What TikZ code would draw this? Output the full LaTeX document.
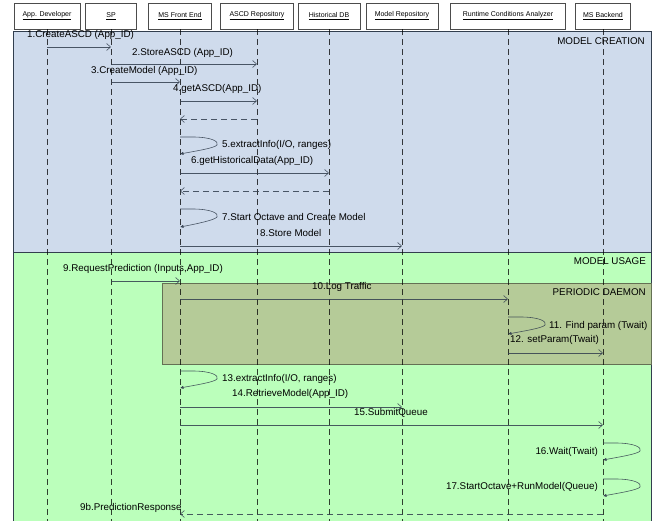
\documentclass[tikz,border=0pt]{standalone}
\usepackage{fontspec}
\setmainfont{Liberation Sans}
\usetikzlibrary{arrows.meta,positioning,calc}
\definecolor{creation}{RGB}{207,219,236}
\definecolor{usage}{RGB}{187,255,187}
\definecolor{daemon}{RGB}{181,203,152}
\definecolor{ink}{RGB}{50,62,78}

\begin{document}
\begin{tikzpicture}[x=1pt,y=-1pt,
  actor/.style={draw=black!70,fill=white,minimum height=26pt,inner sep=1pt,font=\fontsize{7}{8}\selectfont},
  life/.style={draw=black,opacity=.75,dash pattern=on 6pt off 4pt},
  msg/.style={draw=ink,opacity=.85,line width=.6pt,-{Straight Barb[length=4pt,width=7pt]}},
  ret/.style={msg,dash pattern=on 6pt off 4pt},
  selfmsg/.style={draw=ink,opacity=.85,line width=.6pt,-{Latex[length=3.5pt,width=3.5pt]},
    to path={-- ($(\tikztostart)+(12,0)$) .. controls ($(\tikztostart)+(33,0)$) and ($(\tikztostart)+(39,5)$)
      .. ($(\tikztostart)+(37,8)$) .. controls ($(\tikztostart)+(35,11)$) and ($(\tikztotarget)+(16,-3)$) .. (\tikztotarget)}},
  lbl/.style={font=\fontsize{9.8}{11}\selectfont,inner sep=0pt,anchor=west},
  zone/.style={font=\fontsize{9.8}{11}\selectfont,inner sep=0pt,anchor=east}]
 \useasboundingbox (0,0) rectangle (662,521);
 % frames
 \fill[creation] (13,31) rectangle (651,252);
 \fill[usage] (13,252) rectangle (651,521);
 \draw[ink] (13,521) -- (13,31) -- (651,31) -- (651,521);
 \draw[ink] (13,252) -- (651,252);
 \draw[draw=black!45!daemon,fill=daemon] (162,283) rectangle (651,364);
 \node[zone] (creat) at (645,41) {MODEL CREATION};
 \node[zone] (usag) at (646,261) {MODEL USAGE};
 \node[zone] (daem) at (646,292) {PERIODIC DAEMON};
 % participants
 \node[actor,minimum width=66pt] (dev) at (47,16) {\underline{App. Developer}};
 \node[actor,minimum width=51pt] (sp) at (111,16) {\underline{SP}};
 \node[actor,minimum width=63pt] (fe) at (180,16) {\underline{MS Front End}};
 \node[actor,minimum width=73pt] (ascd) at (257,16) {\underline{ASCD Repository}};
 \node[actor,minimum width=62pt] (hist) at (329,16) {\underline{Historical DB}};
 \node[actor,minimum width=72pt] (mrepo) at (402,16) {\underline{Model Repository}};
 \node[actor,minimum width=115pt] (rca) at (508,16) {\underline{Runtime Conditions Analyzer}};
 \node[actor,minimum width=55pt] (back) at (603,16) {\underline{MS Backend}};
 \foreach \p in {dev,sp,fe,ascd,hist,mrepo,rca,back}
   \draw[life] (\p.south) -- (\p.south |- 0,521);
 % model creation
 \node[lbl] (l1) at (27,35) {1.CreateASCD (App\_ID)};
 \draw[msg] (dev |- 0,47) -- (sp |- 0,47);
 \node[lbl] (l2) at (132,53) {2.StoreASCD (App\_ID)};
 \draw[msg] (sp |- 0,64) -- (ascd |- 0,64);
 \node[lbl] (l3) at (91,71) {3.CreateModel (App\_ID)};
 \draw[msg] (sp |- 0,82) -- (fe |- 0,82);
 \node[lbl] (l4) at (173,89) {4.getASCD(App\_ID)};
 \draw[msg] (fe |- 0,101) -- (ascd |- 0,101);
 \draw[ret] (ascd |- 0,119) -- (fe |- 0,119);
 \node[lbl] (l5) at (222,145) {5.extractInfo(I/O, ranges)};
 \draw[selfmsg] (fe |- 0,137) to (fe |- 0,154);
 \node[lbl] (l6) at (191,161) {6.getHistoricalData(App\_ID)};
 \draw[msg] (fe |- 0,173) -- (hist |- 0,173);
 \draw[ret] (hist |- 0,191) -- (fe |- 0,191);
 \node[lbl] (l7) at (222,217) {7.Start Octave and Create Model};
 \draw[selfmsg] (fe |- 0,209) to (fe |- 0,227);
 \node[lbl] (l8) at (260,233) {8.Store Model};
 \draw[msg] (fe |- 0,246) -- (mrepo |- 0,246);
 % model usage
 \node[lbl] (l9) at (63,269) {9.RequestPrediction (Inputs,App\_ID)};
 \draw[msg] (sp |- 0,281) -- (fe |- 0,281);
 \node[lbl] (l10) at (312,287) {10.Log Traffic};
 \draw[msg] (fe |- 0,299) -- (rca |- 0,299);
 \node[lbl] (l11) at (549,326) {11. Find param (Twait)};
 \draw[selfmsg] (rca |- 0,317) to (rca |- 0,334);
 \node[lbl] (l12) at (510,340) {12. setParam(Twait)};
 \draw[msg] (rca |- 0,353) -- (back |- 0,353);
 \node[lbl] (l13) at (222,379) {13.extractInfo(I/O, ranges)};
 \draw[selfmsg] (fe |- 0,371) to (fe |- 0,388);
 \node[lbl] (l14) at (232,394) {14.RetrieveModel(App\_ID)};
 \draw[msg] (fe |- 0,407) -- (mrepo |- 0,407);
 \node[lbl] (l15) at (354,413) {15.SubmitQueue};
 \draw[msg] (fe |- 0,425) -- (back |- 0,425);
 \node[lbl,anchor=east] (l16) at (598,452) {16.Wait(Twait)};
 \draw[selfmsg] (back |- 0,443) to (back |- 0,460);
 \node[lbl,anchor=east] (l17) at (598,487) {17.StartOctave+RunModel(Queue)};
 \draw[selfmsg] (back |- 0,479) to (back |- 0,496);
 \node[lbl] (l9b) at (80,508) {9b.PredictionResponse};
 \draw[ret] (back |- 0,514) -- (fe |- 0,514);
\end{tikzpicture}
\end{document}
